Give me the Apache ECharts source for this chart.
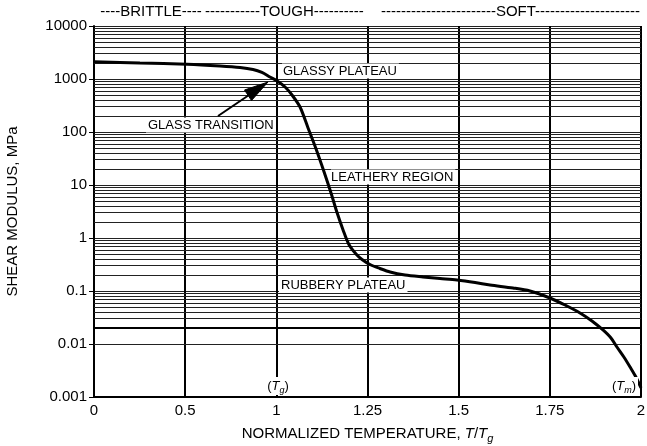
<!DOCTYPE html>
<html>
<head>
<meta charset="utf-8">
<script src="https://cdn.jsdelivr.net/npm/echarts@6/dist/echarts.min.js"></script>
<style>
html,body{margin:0;padding:0;background:#fff;}
#chart{width:647px;height:446px;}
</style>
</head>
<body>
<div id="chart"></div>
<script>
// ---- data ----
const xTickValues = [0, 0.5, 1, 1.25, 1.5, 1.75, 2];
const xTickLabels = ['0', '0.5', '1', '1.25', '1.5', '1.75', '2'];
const yTickLabels = ['0.001', '0.01', '0.1', '1', '10', '100', '1000', '10000'];
const curveT = [0, 0.252, 0.510, 0.691, 0.801, 0.872, 0.921, 0.965, 1.0045, 1.024, 1.043, 1.065, 1.087, 1.109, 1.131, 1.150, 1.166, 1.183, 1.199, 1.2185, 1.235, 1.257, 1.284, 1.312, 1.353, 1.402, 1.449, 1.4955, 1.545, 1.586, 1.649, 1.6955, 1.7504, 1.7916, 1.8327, 1.8655, 1.8957, 1.9177, 1.934, 1.953, 1.970, 1.986, 2.0];
const curveG = [2120, 2005, 1894, 1759, 1648, 1510, 1327, 1091, 898, 706, 499, 296, 119, 47.8, 17.6, 7.06, 3.09, 1.42, 0.754, 0.499, 0.393, 0.316, 0.266, 0.228, 0.200, 0.184, 0.172, 0.161, 0.1446, 0.1297, 0.114, 0.100, 0.0738, 0.0544, 0.0385, 0.0272, 0.0184, 0.0130, 0.00877, 0.00569, 0.00368, 0.00238, 0.00148];
const minorMultipliers = [2, 3, 4, 5, 6, 7, 8, 9];
const decadeExponents = [-3, -2, -1, 0, 1, 2, 3];
const boldGridValue = 0.02;

// map a T/Tg value onto the evenly spaced tick positions of the axis
function tToAxis(t) {
  for (let i = 0; i < xTickValues.length - 1; i++) {
    const a = xTickValues[i], b = xTickValues[i + 1];
    if (t <= b || i === xTickValues.length - 2) {
      return i + (t - a) / (b - a);
    }
  }
}
const curveData = curveT.map((t, i) => [tToAxis(t), curveG[i]]);

const minorLines = [];
decadeExponents.forEach(k => {
  minorMultipliers.forEach(m => {
    const v = Number((m * Math.pow(10, k)).toPrecision(3));
    const item = { yAxis: v };
    if (v === boldGridValue) item.lineStyle = { width: 2, color: '#000' };
    minorLines.push(item);
  });
});

const FONT = '"Liberation Sans", Arial, Helvetica, sans-serif';
const chart = echarts.init(document.getElementById('chart'), null, { renderer: 'canvas' });

function txt(text, x, y, opts) {
  return {
    type: 'text', z: 100, silent: true,
    style: Object.assign({
      text: text, x: x, y: y,
      font: '13px ' + FONT, fill: '#000',
      textAlign: 'left', textVerticalAlign: 'middle'
    }, opts || {})
  };
}
const subRich = {
  i: { fontStyle: 'italic', fontSize: 13, fontFamily: FONT, lineHeight: 18, verticalAlign: 'middle' },
  s: { fontStyle: 'italic', fontSize: 9, fontFamily: FONT, lineHeight: 9, verticalAlign: 'bottom' },
  n: { fontSize: 13, fontFamily: FONT, lineHeight: 18, verticalAlign: 'middle' }
};

const option = {
  animation: false,
  backgroundColor: '#fff',
  textStyle: { fontFamily: FONT },
  grid: { left: 94, right: 6, top: 26, bottom: 49, containLabel: false, outerBoundsMode: 'none' },
  xAxis: {
    type: 'value', min: 0, max: 6, interval: 1,
    axisLine: { show: true, lineStyle: { color: '#000', width: 2 } },
    axisTick: { show: false },
    splitLine: { show: true, lineStyle: { color: '#000', width: 2 } },
    axisLabel: {
      color: '#000', fontSize: 15, fontFamily: FONT, margin: 6,
      formatter: v => xTickLabels[Math.round(v)]
    },
    name: 'NORMALIZED TEMPERATURE, {i|T}/{i|T}{s|g}',
    nameLocation: 'middle', nameGap: 37,
    nameTextStyle: {
      color: '#000', fontSize: 15, fontFamily: FONT, lineHeight: 20, verticalAlign: 'middle',
      rich: {
        i: { fontStyle: 'italic', fontSize: 15, fontFamily: FONT, lineHeight: 20, verticalAlign: 'middle' },
        s: { fontStyle: 'italic', fontSize: 11, fontFamily: FONT, lineHeight: 11, verticalAlign: 'bottom' }
      }
    }
  },
  yAxis: {
    type: 'log', logBase: 10, min: 0.001, max: 10000,
    axisLine: { show: true, lineStyle: { color: '#000', width: 2 } },
    axisTick: { show: true, inside: false, length: 5, lineStyle: { color: '#000', width: 1 } },
    splitLine: { show: true, lineStyle: { color: '#222', width: 1 } },
    axisLabel: {
      color: '#000', fontSize: 15, fontFamily: FONT, margin: 7,
      formatter: v => yTickLabels[Math.round(Math.log10(v)) + 3]
    },
    name: 'SHEAR MODULUS, MPa',
    nameLocation: 'middle', nameGap: 74,
    nameTextStyle: { color: '#000', fontSize: 15, fontFamily: FONT }
  },
  series: [
    {
      type: 'line', data: [], z: 1, silent: true,
      markLine: {
        silent: true, symbol: 'none', animation: false,
        label: { show: false },
        lineStyle: { color: '#222', width: 1, type: 'solid' },
        emphasis: { disabled: true },
        data: minorLines
      }
    },
    {
      type: 'line', data: curveData, z: 5,
      smooth: 0.3, showSymbol: false, silent: true,
      lineStyle: { color: '#000', width: 3 }
    }
  ],
  graphic: [
    txt('----BRITTLE----', 151, 12, { font: '15px ' + FONT, textAlign: 'center' }),
    txt('-----------TOUGH----------', 205, 12, { font: '15px ' + FONT }),
    txt('-----------------------SOFT---------------------', 640, 12, { font: '15px ' + FONT, textAlign: 'right' }),
    txt('GLASSY PLATEAU', 282, 71, { backgroundColor: '#fff', padding: [1, 2, 1, 1] }),
    txt('GLASS TRANSITION', 146, 125, { backgroundColor: '#fff', padding: [1, 2, 1, 2] }),
    txt('LEATHERY REGION', 331, 177, { backgroundColor: '#fff', padding: [1, 2, 1, 0] }),
    txt('RUBBERY PLATEAU', 279, 285, { backgroundColor: '#fff', padding: [1, 2, 1, 2] }),
    txt('{n|(}{i|T}{s|g}{n|)}', 278, 386, { textAlign: 'center', backgroundColor: '#fff', padding: [0, 2, 0, 2], rich: subRich }),
    txt('{n|(}{i|T}{s|m}{n|)}', 638, 386, { textAlign: 'right', backgroundColor: '#fff', padding: [0, 2, 0, 2], rich: subRich }),
    {
      type: 'polyline', z: 100, silent: true,
      shape: { points: [[218, 116], [252, 93]] },
      style: { stroke: '#000', lineWidth: 2, fill: null }
    },
    {
      type: 'polygon', z: 100, silent: true,
      shape: { points: [[268, 82], [251.5, 100.5], [244.5, 90]] },
      style: { fill: '#000', stroke: '#000', lineWidth: 1 }
    }
  ]
};
chart.setOption(option);
</script>
</body>
</html>
